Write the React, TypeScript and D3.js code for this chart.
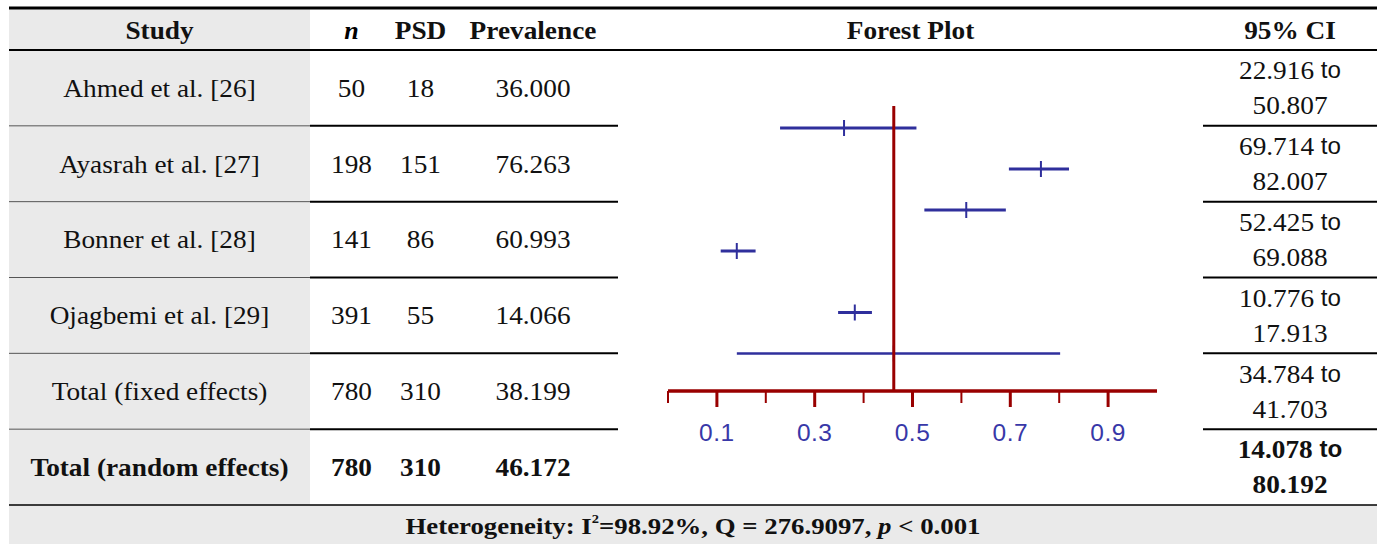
import * as d3 from "d3";

// table data
const studies = [
  "Ahmed et al. [26]",
  "Ayasrah et al. [27]",
  "Bonner et al. [28]",
  "Ojagbemi et al. [29]",
  "Total (fixed effects)",
  "Total (random effects)",
];
const sampleN = [50, 198, 141, 391, 780, 780];
const psd = [18, 151, 86, 55, 310, 310];
const prevalence = [36.0, 76.263, 60.993, 14.066, 38.199, 46.172];
const ciLow = [22.916, 69.714, 52.425, 10.776, 34.784, 14.078];
const ciHigh = [50.807, 82.007, 69.088, 17.913, 41.703, 80.192];
const majorTicks = [0.1, 0.3, 0.5, 0.7, 0.9];
const minorTicks = [0, 0.2, 0.4, 0.6, 0.8];
const i2Text = "98.92%";
const qText = "276.9097";
const pText = "0.001";

const W = 1384;
const H = 544;
const COLS = [9, 310, 393, 448, 618, 1203, 1377];
const TOP = 8;
const HEAD = 50;
const BOTTOM = 505;
const AXIS_Y = 391;
const SERIF = "'Liberation Serif', 'Times New Roman', serif";
const SANS = "'Liberation Sans', Arial, sans-serif";
const GRAY = "#eaeaea";
const BLUE = "#2f2f9c";
const RED = "#990000";
const fmt = d3.format(".3f");

function T({ x, y, bold, size = 26, children }: any) {
  return (
    <text
      transform={`translate(${x},${y}) scale(1.05,1)`}
      textAnchor="middle"
      dominantBaseline="central"
      fontFamily={SERIF}
      fontSize={size}
      fontWeight={bold ? "bold" : "normal"}
      fill="#111"
    >
      {children}
    </text>
  );
}

export default function App() {
  const mid = (i: number) => (COLS[i] + COLS[i + 1]) / 2;
  const rowY = d3.scaleBand().domain(studies).range([HEAD, BOTTOM]);
  const x = d3.scaleLinear().domain([0, 1]).range([668, 1157]);
  const y = d3
    .scaleLinear()
    .domain([0, 5.5])
    .range([128, 353.5]);
  // the two totals sit half a step below the studies
  const pos = (i: number) => (i < 4 ? i : i + 0.5);
  const pooled = prevalence[5] / 100;

  return (
    <svg
      width={W}
      height={H}
      style={{ position: "absolute", left: 0, top: 0, background: "#fff" }}
    >
      {/* backgrounds */}
      <rect x={COLS[0]} y={TOP} width={COLS[1] - COLS[0]} height={BOTTOM - TOP} fill={GRAY} />
      <rect x={COLS[0]} y={BOTTOM} width={COLS[6] - COLS[0]} height={H - BOTTOM} fill={GRAY} />

      {/* rules */}
      <line x1={COLS[0]} x2={COLS[6]} y1={TOP} y2={TOP} stroke="#000" strokeWidth={3} />
      <line x1={COLS[0]} x2={COLS[6]} y1={HEAD} y2={HEAD} stroke="#000" strokeWidth={2} />
      <line x1={COLS[0]} x2={COLS[6]} y1={BOTTOM} y2={BOTTOM} stroke="#000" strokeWidth={1.5} />
      {studies.slice(1).map((s) => {
        const yy = rowY(s)!;
        return (
          <g key={s}>
            <line x1={COLS[0]} x2={COLS[1]} y1={yy} y2={yy} stroke="#555" strokeWidth={1} />
            <line x1={COLS[1]} x2={COLS[4]} y1={yy} y2={yy} stroke="#000" strokeWidth={2} />
            <line x1={COLS[5]} x2={COLS[6]} y1={yy} y2={yy} stroke="#000" strokeWidth={2} />
          </g>
        );
      })}

      {/* header */}
      <T x={mid(0)} y={30} bold>Study</T>
      <text
        x={mid(1)}
        y={30}
        textAnchor="middle"
        dominantBaseline="central"
        fontFamily={SERIF}
        fontSize={26}
        fontWeight="bold"
        fontStyle="italic"
      >
        n
      </text>
      <T x={mid(2)} y={30} bold>PSD</T>
      <T x={mid(3)} y={30} bold>Prevalence</T>
      <T x={mid(4)} y={30} bold>Forest Plot</T>
      <T x={mid(5)} y={30} bold>95% CI</T>

      {/* body */}
      {studies.map((s, i) => {
        const cy = rowY(s)! + rowY.bandwidth() / 2;
        const bold = i === 5;
        return (
          <g key={s}>
            <T x={mid(0)} y={cy} bold={bold}>{s}</T>
            <T x={mid(1)} y={cy} bold={bold}>{sampleN[i]}</T>
            <T x={mid(2)} y={cy} bold={bold}>{psd[i]}</T>
            <T x={mid(3)} y={cy} bold={bold}>{fmt(prevalence[i])}</T>
            <T x={mid(5)} y={cy - 17.5} bold={bold}>
              {fmt(ciLow[i]) + " "}
              <tspan fontFamily={SANS} fontSize={23}>to</tspan>
            </T>
            <T x={mid(5)} y={cy + 17.5} bold={bold}>{fmt(ciHigh[i])}</T>
          </g>
        );
      })}

      {/* forest plot */}
      <g>
        {studies.map((s, i) => {
          const yy = y(pos(i));
          return (
            <g key={s} stroke={BLUE}>
              <line
                x1={x(ciLow[i] / 100)}
                x2={x(ciHigh[i] / 100)}
                y1={yy}
                y2={yy}
                strokeWidth={i === 5 ? 2.5 : 3}
              />
              <line
                x1={x(prevalence[i] / 100)}
                x2={x(prevalence[i] / 100)}
                y1={yy - 8}
                y2={yy + 8}
                strokeWidth={2}
              />
            </g>
          );
        })}
        <line x1={x(pooled)} x2={x(pooled)} y1={106} y2={AXIS_Y} stroke={RED} strokeWidth={3} />
        <line x1={x(0)} x2={x(1)} y1={AXIS_Y} y2={AXIS_Y} stroke={RED} strokeWidth={3.5} />
        {majorTicks.map((t) => (
          <line key={t} x1={x(t)} x2={x(t)} y1={AXIS_Y} y2={AXIS_Y + 16} stroke={RED} strokeWidth={3} />
        ))}
        {minorTicks.map((t) => (
          <line key={t} x1={x(t)} x2={x(t)} y1={AXIS_Y} y2={AXIS_Y + 12} stroke={RED} strokeWidth={2} />
        ))}
        {majorTicks.map((t) => (
          <text
            key={t}
            x={x(t)}
            y={432}
            textAnchor="middle"
            dominantBaseline="central"
            fontFamily={SANS}
            fontSize={24.5}
            letterSpacing={0.5}
            fill="#3838a8"
          >
            {d3.format(".1f")(t)}
          </text>
        ))}
      </g>

      {/* footer */}
      <text
        x={(COLS[0] + COLS[6]) / 2}
        y={526}
        textAnchor="middle"
        dominantBaseline="central"
        fontFamily={SERIF}
        fontSize={24}
        fontWeight="bold"
        fill="#111"
        textLength={575}
        lengthAdjust="spacingAndGlyphs"
      >
        Heterogeneity: I
        <tspan fontSize={13} dy={-8}>2</tspan>
        <tspan dy={8}>{`=${i2Text}, Q = ${qText}, `}</tspan>
        <tspan fontStyle="italic">p</tspan>
        {` < ${pText}`}
      </text>
    </svg>
  );
}
